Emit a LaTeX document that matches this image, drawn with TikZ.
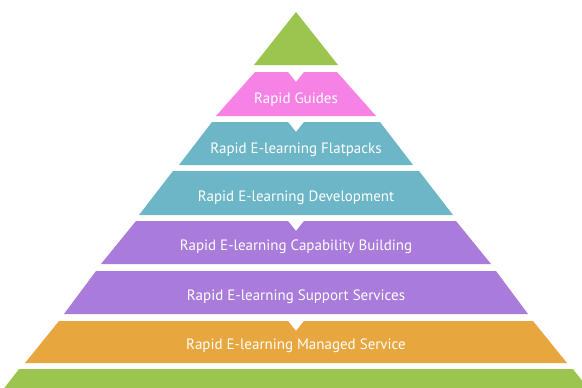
\documentclass[tikz,border=0pt]{standalone}
\usepackage{fontspec}
\setmainfont{PT Sans}
\usepackage{xcolor}
\definecolor{tipgreen}{HTML}{9CC54F}
\definecolor{guidepink}{HTML}{F582E4}
\definecolor{packteal}{HTML}{6CB6C7}
\definecolor{buildpurple}{HTML}{A97BDA}
\definecolor{serviceorange}{HTML}{E8A63F}

\begin{document}
\begin{tikzpicture}[x=1pt,y=-1pt]
	\tikzstyle{every node}+=[inner sep=0pt, text=white, font=\fontsize{15}{17}\selectfont]
	\clip (0,0) rectangle (582,388);
	\fill [white] (0,0) rectangle (582,388);
	% top of the pyramid
	\fill [tipgreen] (296,12) -- (338,65) -- (254,65) -- cycle;
	% layers, with a notch where a new block starts
	\fill [guidepink] (255,72) -- (288,72) -- (296,82) -- (304,72) -- (337,72) -- (376,116) -- (216,116) -- cycle;
	\draw (296,100) node (guides) {Rapid Guides};
	\fill [packteal] (212,122) -- (288,122) -- (296,132) -- (304,122) -- (380,122) -- (413,165) -- (179,165) -- cycle;
	\draw (296,149.5) node (flatpacks) {Rapid E-learning Flatpacks};
	\fill [packteal] (173,171) -- (419,171) -- (453,215) -- (139,215) -- cycle;
	\draw (296,198) node (development) {Rapid E-learning Development};
	\fill [buildpurple] (136,221) -- (288,221) -- (296,231) -- (304,221) -- (456,221) -- (491,264) -- (101,264) -- cycle;
	\draw (296,247) node (capability) {Rapid E-learning Capability Building};
	\fill [buildpurple] (96,271) -- (496,271) -- (528,314) -- (64,314) -- cycle;
	\draw (296,297) node (support) {Rapid E-learning Support Services};
	\fill [serviceorange] (59,321) -- (288,321) -- (296,331) -- (304,321) -- (533,321) -- (567,363) -- (25,363) -- cycle;
	\draw (296,346) node (managed) {Rapid E-learning Managed Service};
	% base
	\fill [tipgreen] (19,369) -- (573,369) -- (590,391) -- (2,391) -- cycle;
\end{tikzpicture}
\end{document}
